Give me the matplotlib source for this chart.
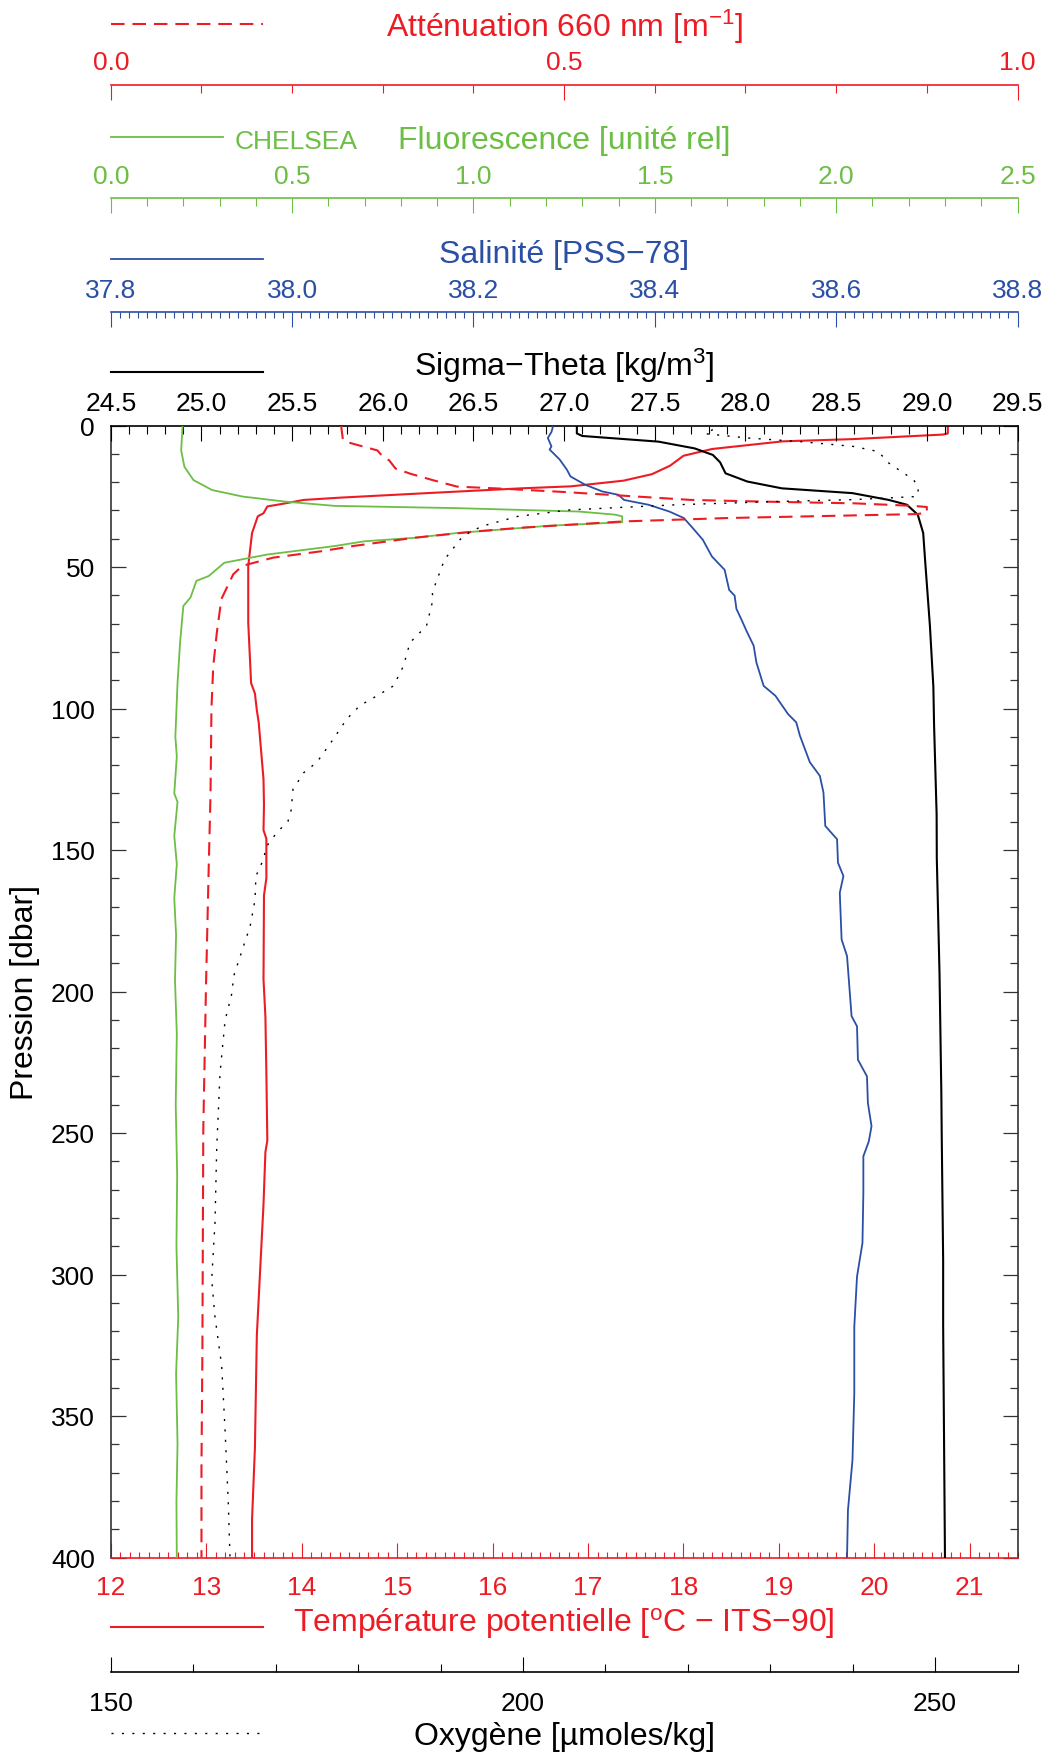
import matplotlib
matplotlib.use('Agg')
import matplotlib.pyplot as plt
from matplotlib.lines import Line2D
from matplotlib.ticker import MultipleLocator, FormatStrFormatter, FixedLocator

# ---------------- data ----------------
temp_p = [0, 2.8, 3.2, 4.8, 5.6, 8.3, 10.7, 14.2, 17.2, 19.5, 21.5, 22.2, 23.9, 25.5, 26.3,
          27.5, 28.6, 31.0, 32.1, 38.0, 49.6, 61.4, 69.6, 91, 94.7, 100.6, 105, 125, 134,
          143, 146, 160, 166, 195.7, 209, 228.9, 252.7, 256.7, 275.2, 301.7, 321.6, 361.3,
          386.5, 400]
temp_v = [20.77, 20.77, 20.72, 19.78, 19.04, 18.30, 18.00, 17.86, 17.67, 17.37, 16.82, 16.30,
          15.31, 14.40, 14.02, 13.83, 13.64, 13.60, 13.54, 13.48, 13.44, 13.44, 13.44, 13.47,
          13.51, 13.53, 13.55, 13.60, 13.605, 13.60, 13.63, 13.63, 13.605, 13.60, 13.62, 13.63,
          13.64, 13.62, 13.60, 13.56, 13.53, 13.51, 13.48, 13.48]

att_p = [0, 5.0, 6.0, 8.8, 11.0, 12.3, 15.2, 17.0, 19.3, 21.6, 22.3, 23.5, 25.1, 26.3, 26.9,
         27.5, 28.4, 28.8, 30.8, 31.3, 32.7, 33.9, 36.2, 37.5, 39.7, 42.6, 44.4, 46.7, 49.6,
         52.6, 61.3, 73, 85, 100, 130, 156, 198, 249, 328, 368, 400]
att_v = [0.254, 0.256, 0.262, 0.294, 0.300, 0.307, 0.314, 0.330, 0.355, 0.382, 0.43, 0.50,
         0.58, 0.64, 0.72, 0.82, 0.885, 0.900, 0.900, 0.889, 0.68, 0.565, 0.449, 0.40, 0.334,
         0.267, 0.233, 0.179, 0.145, 0.135, 0.122, 0.117, 0.113, 0.111, 0.110, 0.108, 0.105,
         0.102, 0.101, 0.100, 0.100]

fluo_p = [0, 8.8, 14.6, 19.3, 22.8, 25.1, 26.9, 28.4, 29.2, 30.4, 31.5, 32.1, 34.2, 35.4, 38.0,
          39.7, 40.9, 42.6, 45.6, 48.5, 53.2, 54.9, 60.7, 63.8, 76.7, 91, 110, 117, 130, 133,
          145, 155, 167, 180, 196, 215, 240, 265, 290, 315, 335, 360, 380, 400]
fluo_v = [0.198, 0.194, 0.203, 0.228, 0.279, 0.363, 0.481, 0.617, 0.954, 1.29, 1.39, 1.41,
          1.41, 1.21, 0.954, 0.836, 0.70, 0.617, 0.431, 0.313, 0.27, 0.236, 0.22, 0.200, 0.191,
          0.184, 0.178, 0.182, 0.175, 0.184, 0.175, 0.182, 0.175, 0.180, 0.177, 0.182, 0.179,
          0.183, 0.181, 0.186, 0.180, 0.184, 0.181, 0.182]

sal_p = [0, 2.3, 4.4, 7.4, 8.5, 12.0, 15.6, 18.0, 20.9, 23.3, 24.5, 26.3, 28.0, 30.4, 32.7,
         36.3, 40.4, 46.3, 51.0, 58.1, 60.1, 64.8, 68.9, 72.5, 77.8, 83.7, 92, 95.5, 102,
         104.9, 109.6, 119, 123.8, 129.7, 141.5, 146.2, 154.5, 159.2, 165.1, 181.6, 187.5,
         208.7, 212.3, 224.1, 230, 239.4, 247.6, 253, 258.2, 271.2, 288.9, 300.7, 318.4, 342,
         365.6, 383.3, 400]
sal_v = [38.288, 38.286, 38.282, 38.286, 38.284, 38.295, 38.303, 38.307, 38.323, 38.342,
         38.360, 38.366, 38.393, 38.416, 38.432, 38.442, 38.453, 38.463, 38.477, 38.482,
         38.488, 38.490, 38.496, 38.501, 38.509, 38.512, 38.520, 38.533, 38.547, 38.556,
         38.560, 38.571, 38.582, 38.586, 38.588, 38.601, 38.602, 38.608, 38.604, 38.606,
         38.612, 38.617, 38.623, 38.624, 38.634, 38.635, 38.639, 38.636, 38.630, 38.630,
         38.629, 38.623, 38.620, 38.620, 38.618, 38.613, 38.612]

sig_p = [0, 2.8, 3.7, 5.7, 8.1, 10.4, 13.0, 16.9, 19.8, 22.2, 23.9, 26.3, 28.0, 31.5, 38,
         47.2, 70.8, 92.3, 106, 137.4, 153, 193.8, 236, 250, 295, 318, 400]
sig_v = [27.07, 27.07, 27.10, 27.52, 27.72, 27.82, 27.86, 27.89, 28.01, 28.20, 28.59, 28.79,
         28.89, 28.95, 28.98, 28.99, 29.017, 29.036, 29.04, 29.054, 29.055, 29.07, 29.08,
         29.082, 29.09, 29.09, 29.10]

oxy_p = [0, 1.5, 2.9, 4.4, 5.7, 7.4, 9.2, 13.3, 19.2, 22.1, 25.1, 26.2, 26.8, 28.0, 29.8,
         32.1, 35.6, 39.1, 47.3, 59, 61.4, 70.8, 76.7, 85, 92, 95.5, 99, 103.8, 110.8, 119,
         122.7, 128.6, 135.7, 139.8, 144, 148.7, 153.4, 159.3, 167.6, 177, 184, 194.6, 200.5,
         210.3, 228.9, 255.4, 281.8, 301.7, 315, 332.2, 354.7, 381.2, 400]
oxy_v = [224.2, 223.0, 222.1, 227.2, 233.7, 240.1, 243.1, 244.4, 247.4, 248.0, 247.8, 240.0,
         231.5, 218.7, 205.8, 199.4, 195.0, 192.7, 190.5, 189.0, 189.1, 188.3, 186.3, 185.5,
         184.3, 182.3, 180.2, 178.6, 177.0, 175.0, 173.4, 172.1, 171.9, 171.5, 170.1, 168.9,
         168.5, 167.6, 167.5, 166.9, 166.1, 164.9, 164.7, 163.86, 163.25, 162.85, 162.64,
         162.24, 162.64, 163.45, 163.86, 164.26, 164.46]

temp_ticks = [12, 13, 14, 15, 16, 17, 18, 19, 20, 21]
oxy_ticks = [150, 200, 250]

# ---------------- style ----------------
plt.rcParams['font.family'] = ['Liberation Sans', 'DejaVu Sans']
plt.rcParams['mathtext.fontset'] = 'custom'
plt.rcParams['mathtext.rm'] = 'Liberation Sans'
plt.rcParams['mathtext.it'] = 'Liberation Sans:italic'
plt.rcParams['mathtext.default'] = 'regular'

RED = '#ED1C24'
GREEN = '#6CBE45'
BLUE = '#2A4FA5'
BLACK = '#000000'
TICK_FS = 19
TITLE_FS = 23

W, H = 1050, 1756
fig = plt.figure(figsize=(W / 100, H / 100), dpi=100)
bx0, bx1, by0, by1 = 110.8, 1017.5, 426.5, 1558.5
ax = fig.add_axes([bx0 / W, 1 - by1 / H, (bx1 - bx0) / W, (by1 - by0) / H])
boxh = by1 - by0


def yfrac(ypx):
    return (by1 - ypx) / boxh


def fy(ypx):
    return 1 - ypx / H


def fx(xpx):
    return xpx / W


MAJ_L, MIN_L = 10.8, 5.6

# ---- main axes: temperature (bottom) & pressure ----
ax.plot(temp_v, temp_p, color=RED, lw=1.5, zorder=5)
ax.set_xlim(12, 21.5)
ax.set_ylim(400, 0)
ax.xaxis.set_major_locator(FixedLocator(temp_ticks))
ax.xaxis.set_minor_locator(MultipleLocator(0.1))
ax.tick_params(axis='x', which='both', direction='in', colors=RED, labelsize=TICK_FS,
               pad=12.5, bottom=True, top=False, width=0.8)
ax.tick_params(axis='x', which='major', length=MAJ_L)
ax.tick_params(axis='x', which='minor', length=4.5)
ax.yaxis.set_major_locator(MultipleLocator(50))
ax.yaxis.set_minor_locator(MultipleLocator(10))
ax.tick_params(axis='y', which='both', direction='in', left=True, right=True,
               labelright=False, labelsize=TICK_FS, pad=11.5, width=0.9, color='#333333')
ax.tick_params(axis='y', which='major', length=MAJ_L)
ax.tick_params(axis='y', which='minor', length=MIN_L)
for s in ['left', 'right']:
    ax.spines[s].set_color('#333333')
    ax.spines[s].set_linewidth(1.2)
ax.spines['bottom'].set_color(RED)
ax.spines['bottom'].set_linewidth(1.2)
ax.spines['top'].set_visible(False)


def twin(color, xlim, major, minor, pos, where='top', fmt='%.1f', lab_pad=7.6, min_len=MIN_L):
    t = ax.twiny()
    for s in t.spines.values():
        s.set_visible(False)
    sp = t.spines[where]
    sp.set_visible(True)
    sp.set_color(color)
    sp.set_linewidth(1.2)
    if pos is not None:
        sp.set_position(('axes', pos))
    t.set_xlim(*xlim)
    if where == 'bottom':
        t.xaxis.set_ticks_position('bottom')
        t.xaxis.set_label_position('bottom')
    if isinstance(major, list):
        t.xaxis.set_major_locator(FixedLocator(major))
    else:
        t.xaxis.set_major_locator(MultipleLocator(major))
    t.xaxis.set_minor_locator(MultipleLocator(minor))
    if fmt:
        t.xaxis.set_major_formatter(FormatStrFormatter(fmt))
    t.tick_params(axis='x', which='both', direction='in', colors=color,
                  labelsize=TICK_FS, pad=lab_pad, width=0.8)
    t.tick_params(axis='x', which='major', length=MAJ_L)
    t.tick_params(axis='x', which='minor', length=min_len)
    return t


ax_sig = twin(BLACK, (24.5, 29.5), 0.5, 0.1, None)
ax_sig.plot(sig_v, sig_p, color=BLACK, lw=1.5)

ax_sal = twin(BLUE, (37.8, 38.8), 0.2, 0.01, yfrac(313.3), min_len=4.0)
ax_sal.plot(sal_v, sal_p, color=BLUE, lw=1.3)

ax_flu = twin(GREEN, (0, 2.5), 0.5, 0.1, yfrac(199.3))
ax_flu.plot(fluo_v, fluo_p, color=GREEN, lw=1.3)

ax_att = twin(RED, (0, 1.0), 0.5, 0.1, yfrac(85.7))
ax_att.plot(att_v, att_p, color=RED, lw=1.5, dashes=(6.5, 3.8))

ax_oxy = twin(BLACK, (150, 260), oxy_ticks, 10, yfrac(1673.3), where='bottom', fmt='%d',
              lab_pad=13.2)
ax_oxy.plot(oxy_v, oxy_p, color=BLACK, lw=1.0, dashes=(1.5, 6))

# ---------------- titles and legend keys ----------------
cx = fx((bx0 + bx1) / 2)


def title(y, txt, color):
    fig.text(cx, fy(y), txt, ha='center', va='baseline', fontsize=TITLE_FS, color=color)


def key(x0, x1, y, color, **kw):
    fig.add_artist(Line2D([fx(x0), fx(x1)], [fy(y), fy(y)], transform=fig.transFigure,
                          color=color, **kw))


title(37.3, 'Atténuation 660 nm [m$^{-1}$]', RED)
key(111, 263, 25, RED, lw=1.5, dashes=(6.5, 3.8))

title(149, 'Fluorescence [unité rel]', GREEN)
key(111, 223, 138, GREEN, lw=1.3)
fig.text(fx(235), fy(149.3), 'CHELSEA', ha='left', va='baseline', fontsize=19, color=GREEN)

title(262.7, 'Salinité [PSS−78]', BLUE)
key(111, 263, 260, BLUE, lw=1.3)

title(376, 'Sigma−Theta [kg/m$^3$]', BLACK)
key(111, 263, 372.7, BLACK, lw=1.5)

title(1631.7, 'Température potentielle [$^o$C − ITS−90]', RED)
key(111, 263, 1628, RED, lw=1.5)

title(1745, 'Oxygène [µmoles/kg]', BLACK)
key(111, 260, 1734, BLACK, lw=1.0, dashes=(1.5, 6))

fig.text(fx(24.6), fy((by0 + by1) / 2), 'Pression [dbar]', rotation=90, ha='center',
         va='center', fontsize=TITLE_FS, color=BLACK)

fig.savefig('out.png', dpi=100)
